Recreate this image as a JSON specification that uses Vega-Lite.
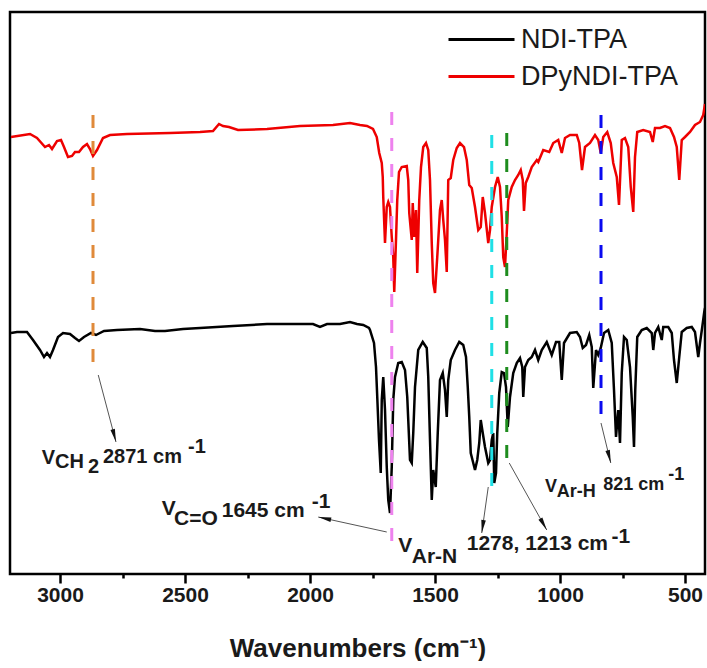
{
  "$schema": "https://vega.github.io/schema/vega-lite/v6.json",
  "width": 695,
  "height": 562,
  "padding": {"left": 10, "top": 12, "right": 2, "bottom": 0},
  "config": {"view": {"stroke": "black", "strokeWidth": 2.5}, "font": "Liberation Sans"},
  "datasets": {
    "spectra": [
      {"sample":"DPyNDI-TPA","wn":3196,"t":437},{"sample":"DPyNDI-TPA","wn":3120,"t":440},{"sample":"DPyNDI-TPA","wn":3092,"t":436},{"sample":"DPyNDI-TPA","wn":3060,"t":427},{"sample":"DPyNDI-TPA","wn":3044,"t":429},{"sample":"DPyNDI-TPA","wn":3032,"t":425},{"sample":"DPyNDI-TPA","wn":3012,"t":433},{"sample":"DPyNDI-TPA","wn":2996,"t":434},{"sample":"DPyNDI-TPA","wn":2984,"t":427},{"sample":"DPyNDI-TPA","wn":2968,"t":417},{"sample":"DPyNDI-TPA","wn":2952,"t":418},{"sample":"DPyNDI-TPA","wn":2940,"t":422},{"sample":"DPyNDI-TPA","wn":2924,"t":422},{"sample":"DPyNDI-TPA","wn":2908,"t":427},{"sample":"DPyNDI-TPA","wn":2892,"t":430},{"sample":"DPyNDI-TPA","wn":2880,"t":425},{"sample":"DPyNDI-TPA","wn":2868,"t":418},{"sample":"DPyNDI-TPA","wn":2852,"t":424},{"sample":"DPyNDI-TPA","wn":2828,"t":436},{"sample":"DPyNDI-TPA","wn":2800,"t":439},{"sample":"DPyNDI-TPA","wn":2732,"t":440},{"sample":"DPyNDI-TPA","wn":2560,"t":441},{"sample":"DPyNDI-TPA","wn":2440,"t":442},{"sample":"DPyNDI-TPA","wn":2388,"t":443},{"sample":"DPyNDI-TPA","wn":2364,"t":450},{"sample":"DPyNDI-TPA","wn":2348,"t":448},{"sample":"DPyNDI-TPA","wn":2324,"t":447},{"sample":"DPyNDI-TPA","wn":2288,"t":444},{"sample":"DPyNDI-TPA","wn":2172,"t":445},{"sample":"DPyNDI-TPA","wn":2040,"t":448},{"sample":"DPyNDI-TPA","wn":1908,"t":449},{"sample":"DPyNDI-TPA","wn":1840,"t":451},{"sample":"DPyNDI-TPA","wn":1800,"t":449},{"sample":"DPyNDI-TPA","wn":1772,"t":448},{"sample":"DPyNDI-TPA","wn":1748,"t":445},{"sample":"DPyNDI-TPA","wn":1733,"t":437},{"sample":"DPyNDI-TPA","wn":1723,"t":421},{"sample":"DPyNDI-TPA","wn":1713,"t":411},{"sample":"DPyNDI-TPA","wn":1709,"t":397},{"sample":"DPyNDI-TPA","wn":1707,"t":377},{"sample":"DPyNDI-TPA","wn":1700,"t":331},{"sample":"DPyNDI-TPA","wn":1693,"t":367},{"sample":"DPyNDI-TPA","wn":1687,"t":372},{"sample":"DPyNDI-TPA","wn":1680,"t":367},{"sample":"DPyNDI-TPA","wn":1673,"t":337},{"sample":"DPyNDI-TPA","wn":1667,"t":317},{"sample":"DPyNDI-TPA","wn":1663,"t":282},{"sample":"DPyNDI-TPA","wn":1656,"t":334},{"sample":"DPyNDI-TPA","wn":1651,"t":374},{"sample":"DPyNDI-TPA","wn":1644,"t":402},{"sample":"DPyNDI-TPA","wn":1633,"t":407},{"sample":"DPyNDI-TPA","wn":1613,"t":408},{"sample":"DPyNDI-TPA","wn":1607,"t":394},{"sample":"DPyNDI-TPA","wn":1603,"t":361},{"sample":"DPyNDI-TPA","wn":1593,"t":334},{"sample":"DPyNDI-TPA","wn":1589,"t":371},{"sample":"DPyNDI-TPA","wn":1583,"t":337},{"sample":"DPyNDI-TPA","wn":1576,"t":364},{"sample":"DPyNDI-TPA","wn":1571,"t":301},{"sample":"DPyNDI-TPA","wn":1563,"t":374},{"sample":"DPyNDI-TPA","wn":1556,"t":407},{"sample":"DPyNDI-TPA","wn":1547,"t":427},{"sample":"DPyNDI-TPA","wn":1536,"t":431},{"sample":"DPyNDI-TPA","wn":1527,"t":424},{"sample":"DPyNDI-TPA","wn":1520,"t":394},{"sample":"DPyNDI-TPA","wn":1513,"t":331},{"sample":"DPyNDI-TPA","wn":1507,"t":291},{"sample":"DPyNDI-TPA","wn":1500,"t":281},{"sample":"DPyNDI-TPA","wn":1491,"t":317},{"sample":"DPyNDI-TPA","wn":1480,"t":364},{"sample":"DPyNDI-TPA","wn":1473,"t":374},{"sample":"DPyNDI-TPA","wn":1467,"t":354},{"sample":"DPyNDI-TPA","wn":1460,"t":334},{"sample":"DPyNDI-TPA","wn":1453,"t":302},{"sample":"DPyNDI-TPA","wn":1447,"t":394},{"sample":"DPyNDI-TPA","wn":1437,"t":396},{"sample":"DPyNDI-TPA","wn":1427,"t":414},{"sample":"DPyNDI-TPA","wn":1413,"t":426},{"sample":"DPyNDI-TPA","wn":1400,"t":431},{"sample":"DPyNDI-TPA","wn":1384,"t":427},{"sample":"DPyNDI-TPA","wn":1373,"t":414},{"sample":"DPyNDI-TPA","wn":1363,"t":389},{"sample":"DPyNDI-TPA","wn":1353,"t":386},{"sample":"DPyNDI-TPA","wn":1340,"t":367},{"sample":"DPyNDI-TPA","wn":1327,"t":344},{"sample":"DPyNDI-TPA","wn":1317,"t":347},{"sample":"DPyNDI-TPA","wn":1309,"t":377},{"sample":"DPyNDI-TPA","wn":1300,"t":361},{"sample":"DPyNDI-TPA","wn":1287,"t":331},{"sample":"DPyNDI-TPA","wn":1280,"t":344},{"sample":"DPyNDI-TPA","wn":1273,"t":367},{"sample":"DPyNDI-TPA","wn":1260,"t":387},{"sample":"DPyNDI-TPA","wn":1249,"t":397},{"sample":"DPyNDI-TPA","wn":1240,"t":387},{"sample":"DPyNDI-TPA","wn":1233,"t":357},{"sample":"DPyNDI-TPA","wn":1227,"t":317},{"sample":"DPyNDI-TPA","wn":1220,"t":307},{"sample":"DPyNDI-TPA","wn":1213,"t":341},{"sample":"DPyNDI-TPA","wn":1207,"t":374},{"sample":"DPyNDI-TPA","wn":1193,"t":387},{"sample":"DPyNDI-TPA","wn":1180,"t":394},{"sample":"DPyNDI-TPA","wn":1167,"t":399},{"sample":"DPyNDI-TPA","wn":1157,"t":404},{"sample":"DPyNDI-TPA","wn":1149,"t":394},{"sample":"DPyNDI-TPA","wn":1144,"t":363},{"sample":"DPyNDI-TPA","wn":1137,"t":391},{"sample":"DPyNDI-TPA","wn":1127,"t":397},{"sample":"DPyNDI-TPA","wn":1113,"t":407},{"sample":"DPyNDI-TPA","wn":1093,"t":414},{"sample":"DPyNDI-TPA","wn":1087,"t":412},{"sample":"DPyNDI-TPA","wn":1067,"t":424},{"sample":"DPyNDI-TPA","wn":1043,"t":422},{"sample":"DPyNDI-TPA","wn":1027,"t":431},{"sample":"DPyNDI-TPA","wn":1007,"t":434},{"sample":"DPyNDI-TPA","wn":993,"t":421},{"sample":"DPyNDI-TPA","wn":980,"t":436},{"sample":"DPyNDI-TPA","wn":960,"t":439},{"sample":"DPyNDI-TPA","wn":933,"t":439},{"sample":"DPyNDI-TPA","wn":923,"t":431},{"sample":"DPyNDI-TPA","wn":912,"t":404},{"sample":"DPyNDI-TPA","wn":900,"t":427},{"sample":"DPyNDI-TPA","wn":880,"t":431},{"sample":"DPyNDI-TPA","wn":860,"t":439},{"sample":"DPyNDI-TPA","wn":847,"t":434},{"sample":"DPyNDI-TPA","wn":837,"t":421},{"sample":"DPyNDI-TPA","wn":827,"t":437},{"sample":"DPyNDI-TPA","wn":811,"t":442},{"sample":"DPyNDI-TPA","wn":797,"t":431},{"sample":"DPyNDI-TPA","wn":787,"t":411},{"sample":"DPyNDI-TPA","wn":773,"t":397},{"sample":"DPyNDI-TPA","wn":764,"t":369},{"sample":"DPyNDI-TPA","wn":753,"t":434},{"sample":"DPyNDI-TPA","wn":740,"t":436},{"sample":"DPyNDI-TPA","wn":727,"t":427},{"sample":"DPyNDI-TPA","wn":717,"t":387},{"sample":"DPyNDI-TPA","wn":707,"t":362},{"sample":"DPyNDI-TPA","wn":700,"t":417},{"sample":"DPyNDI-TPA","wn":691,"t":442},{"sample":"DPyNDI-TPA","wn":667,"t":444},{"sample":"DPyNDI-TPA","wn":640,"t":442},{"sample":"DPyNDI-TPA","wn":629,"t":432},{"sample":"DPyNDI-TPA","wn":620,"t":446},{"sample":"DPyNDI-TPA","wn":600,"t":446},{"sample":"DPyNDI-TPA","wn":580,"t":448},{"sample":"DPyNDI-TPA","wn":560,"t":446},{"sample":"DPyNDI-TPA","wn":544,"t":437},{"sample":"DPyNDI-TPA","wn":533,"t":427},{"sample":"DPyNDI-TPA","wn":523,"t":394},{"sample":"DPyNDI-TPA","wn":513,"t":434},{"sample":"DPyNDI-TPA","wn":500,"t":437},{"sample":"DPyNDI-TPA","wn":480,"t":442},{"sample":"DPyNDI-TPA","wn":460,"t":449},{"sample":"DPyNDI-TPA","wn":440,"t":452},{"sample":"DPyNDI-TPA","wn":427,"t":459},{"sample":"DPyNDI-TPA","wn":420,"t":470},
      {"sample":"NDI-TPA","wn":3196,"t":241},{"sample":"NDI-TPA","wn":3172,"t":242},{"sample":"NDI-TPA","wn":3132,"t":242},{"sample":"NDI-TPA","wn":3108,"t":234},{"sample":"NDI-TPA","wn":3080,"t":224},{"sample":"NDI-TPA","wn":3064,"t":217},{"sample":"NDI-TPA","wn":3052,"t":221},{"sample":"NDI-TPA","wn":3040,"t":217},{"sample":"NDI-TPA","wn":3028,"t":224},{"sample":"NDI-TPA","wn":3008,"t":237},{"sample":"NDI-TPA","wn":2988,"t":241},{"sample":"NDI-TPA","wn":2960,"t":240},{"sample":"NDI-TPA","wn":2940,"t":236},{"sample":"NDI-TPA","wn":2924,"t":233},{"sample":"NDI-TPA","wn":2904,"t":237},{"sample":"NDI-TPA","wn":2876,"t":241},{"sample":"NDI-TPA","wn":2856,"t":239},{"sample":"NDI-TPA","wn":2824,"t":243},{"sample":"NDI-TPA","wn":2772,"t":244},{"sample":"NDI-TPA","wn":2680,"t":245},{"sample":"NDI-TPA","wn":2620,"t":243},{"sample":"NDI-TPA","wn":2580,"t":243},{"sample":"NDI-TPA","wn":2508,"t":245},{"sample":"NDI-TPA","wn":2440,"t":246},{"sample":"NDI-TPA","wn":2308,"t":248},{"sample":"NDI-TPA","wn":2172,"t":250},{"sample":"NDI-TPA","wn":2040,"t":250},{"sample":"NDI-TPA","wn":1988,"t":250},{"sample":"NDI-TPA","wn":1960,"t":247},{"sample":"NDI-TPA","wn":1932,"t":250},{"sample":"NDI-TPA","wn":1880,"t":250},{"sample":"NDI-TPA","wn":1840,"t":252},{"sample":"NDI-TPA","wn":1812,"t":250},{"sample":"NDI-TPA","wn":1787,"t":249},{"sample":"NDI-TPA","wn":1764,"t":246},{"sample":"NDI-TPA","wn":1760,"t":244},{"sample":"NDI-TPA","wn":1744,"t":231},{"sample":"NDI-TPA","wn":1736,"t":207},{"sample":"NDI-TPA","wn":1731,"t":177},{"sample":"NDI-TPA","wn":1724,"t":134},{"sample":"NDI-TPA","wn":1717,"t":101},{"sample":"NDI-TPA","wn":1713,"t":174},{"sample":"NDI-TPA","wn":1707,"t":197},{"sample":"NDI-TPA","wn":1700,"t":164},{"sample":"NDI-TPA","wn":1693,"t":107},{"sample":"NDI-TPA","wn":1687,"t":74},{"sample":"NDI-TPA","wn":1680,"t":61},{"sample":"NDI-TPA","wn":1673,"t":107},{"sample":"NDI-TPA","wn":1667,"t":174},{"sample":"NDI-TPA","wn":1660,"t":197},{"sample":"NDI-TPA","wn":1647,"t":211},{"sample":"NDI-TPA","wn":1633,"t":212},{"sample":"NDI-TPA","wn":1620,"t":204},{"sample":"NDI-TPA","wn":1611,"t":177},{"sample":"NDI-TPA","wn":1600,"t":114},{"sample":"NDI-TPA","wn":1593,"t":111},{"sample":"NDI-TPA","wn":1587,"t":141},{"sample":"NDI-TPA","wn":1580,"t":187},{"sample":"NDI-TPA","wn":1567,"t":224},{"sample":"NDI-TPA","wn":1549,"t":232},{"sample":"NDI-TPA","wn":1533,"t":226},{"sample":"NDI-TPA","wn":1527,"t":197},{"sample":"NDI-TPA","wn":1520,"t":134},{"sample":"NDI-TPA","wn":1513,"t":74},{"sample":"NDI-TPA","wn":1507,"t":104},{"sample":"NDI-TPA","wn":1497,"t":87},{"sample":"NDI-TPA","wn":1489,"t":141},{"sample":"NDI-TPA","wn":1480,"t":194},{"sample":"NDI-TPA","wn":1469,"t":201},{"sample":"NDI-TPA","wn":1460,"t":184},{"sample":"NDI-TPA","wn":1453,"t":157},{"sample":"NDI-TPA","wn":1447,"t":194},{"sample":"NDI-TPA","wn":1437,"t":214},{"sample":"NDI-TPA","wn":1420,"t":224},{"sample":"NDI-TPA","wn":1403,"t":232},{"sample":"NDI-TPA","wn":1387,"t":229},{"sample":"NDI-TPA","wn":1376,"t":217},{"sample":"NDI-TPA","wn":1369,"t":187},{"sample":"NDI-TPA","wn":1363,"t":157},{"sample":"NDI-TPA","wn":1357,"t":121},{"sample":"NDI-TPA","wn":1347,"t":111},{"sample":"NDI-TPA","wn":1340,"t":104},{"sample":"NDI-TPA","wn":1331,"t":114},{"sample":"NDI-TPA","wn":1323,"t":131},{"sample":"NDI-TPA","wn":1317,"t":154},{"sample":"NDI-TPA","wn":1309,"t":141},{"sample":"NDI-TPA","wn":1300,"t":127},{"sample":"NDI-TPA","wn":1287,"t":111},{"sample":"NDI-TPA","wn":1280,"t":114},{"sample":"NDI-TPA","wn":1273,"t":134},{"sample":"NDI-TPA","wn":1267,"t":141},{"sample":"NDI-TPA","wn":1263,"t":91},{"sample":"NDI-TPA","wn":1256,"t":101},{"sample":"NDI-TPA","wn":1251,"t":141},{"sample":"NDI-TPA","wn":1243,"t":181},{"sample":"NDI-TPA","wn":1233,"t":202},{"sample":"NDI-TPA","wn":1224,"t":201},{"sample":"NDI-TPA","wn":1216,"t":187},{"sample":"NDI-TPA","wn":1209,"t":147},{"sample":"NDI-TPA","wn":1200,"t":177},{"sample":"NDI-TPA","wn":1187,"t":201},{"sample":"NDI-TPA","wn":1173,"t":211},{"sample":"NDI-TPA","wn":1160,"t":216},{"sample":"NDI-TPA","wn":1151,"t":207},{"sample":"NDI-TPA","wn":1147,"t":177},{"sample":"NDI-TPA","wn":1140,"t":207},{"sample":"NDI-TPA","wn":1127,"t":214},{"sample":"NDI-TPA","wn":1113,"t":217},{"sample":"NDI-TPA","wn":1100,"t":224},{"sample":"NDI-TPA","wn":1087,"t":214},{"sample":"NDI-TPA","wn":1073,"t":224},{"sample":"NDI-TPA","wn":1053,"t":232},{"sample":"NDI-TPA","wn":1033,"t":219},{"sample":"NDI-TPA","wn":1016,"t":232},{"sample":"NDI-TPA","wn":1003,"t":232},{"sample":"NDI-TPA","wn":993,"t":194},{"sample":"NDI-TPA","wn":984,"t":231},{"sample":"NDI-TPA","wn":960,"t":241},{"sample":"NDI-TPA","wn":933,"t":242},{"sample":"NDI-TPA","wn":920,"t":237},{"sample":"NDI-TPA","wn":909,"t":226},{"sample":"NDI-TPA","wn":896,"t":229},{"sample":"NDI-TPA","wn":883,"t":239},{"sample":"NDI-TPA","wn":873,"t":227},{"sample":"NDI-TPA","wn":867,"t":186},{"sample":"NDI-TPA","wn":856,"t":224},{"sample":"NDI-TPA","wn":847,"t":219},{"sample":"NDI-TPA","wn":837,"t":226},{"sample":"NDI-TPA","wn":824,"t":241},{"sample":"NDI-TPA","wn":807,"t":244},{"sample":"NDI-TPA","wn":793,"t":231},{"sample":"NDI-TPA","wn":784,"t":184},{"sample":"NDI-TPA","wn":776,"t":137},{"sample":"NDI-TPA","wn":767,"t":164},{"sample":"NDI-TPA","wn":760,"t":131},{"sample":"NDI-TPA","wn":753,"t":201},{"sample":"NDI-TPA","wn":744,"t":237},{"sample":"NDI-TPA","wn":733,"t":234},{"sample":"NDI-TPA","wn":720,"t":207},{"sample":"NDI-TPA","wn":709,"t":157},{"sample":"NDI-TPA","wn":704,"t":127},{"sample":"NDI-TPA","wn":699,"t":184},{"sample":"NDI-TPA","wn":691,"t":237},{"sample":"NDI-TPA","wn":673,"t":244},{"sample":"NDI-TPA","wn":653,"t":246},{"sample":"NDI-TPA","wn":633,"t":241},{"sample":"NDI-TPA","wn":627,"t":224},{"sample":"NDI-TPA","wn":620,"t":241},{"sample":"NDI-TPA","wn":607,"t":247},{"sample":"NDI-TPA","wn":593,"t":234},{"sample":"NDI-TPA","wn":587,"t":247},{"sample":"NDI-TPA","wn":567,"t":247},{"sample":"NDI-TPA","wn":553,"t":241},{"sample":"NDI-TPA","wn":544,"t":214},{"sample":"NDI-TPA","wn":533,"t":191},{"sample":"NDI-TPA","wn":523,"t":217},{"sample":"NDI-TPA","wn":513,"t":242},{"sample":"NDI-TPA","wn":493,"t":246},{"sample":"NDI-TPA","wn":473,"t":247},{"sample":"NDI-TPA","wn":460,"t":242},{"sample":"NDI-TPA","wn":447,"t":217},{"sample":"NDI-TPA","wn":440,"t":231},{"sample":"NDI-TPA","wn":431,"t":247},{"sample":"NDI-TPA","wn":423,"t":262},{"sample":"NDI-TPA","wn":420,"t":266}
    ],
    "markers": [
      {"band":"CH2","wn":2868,"top":459,"bottom":206},
      {"band":"C=O","wn":1673,"top":462,"bottom":27},
      {"band":"Ar-N a","wn":1273,"top":439,"bottom":77},
      {"band":"Ar-N b","wn":1213,"top":441,"bottom":114},
      {"band":"Ar-H","wn":836,"top":459,"bottom":157}
    ],
    "arrows": [
      {"band":"CH2","wn0":2847,"t0":199,"wn1":2776,"t1":132},
      {"band":"C=O","wn0":1693,"t0":42,"wn1":1967,"t1":57},
      {"band":"Ar-N a","wn0":1287,"t0":87,"wn1":1313,"t1":41},
      {"band":"Ar-N b","wn0":1203,"t0":111,"wn1":1053,"t1":44},
      {"band":"Ar-H","wn0":836,"t0":151,"wn1":797,"t1":111}
    ],
    "labels": [
      {"peak":"CH2","text":"V","wn":3073,"t":110},
      {"peak":"CH2","text":"CH","wn":3020,"t":106},
      {"peak":"CH2","text":"2","wn":2888,"t":101},
      {"peak":"CH2","text":"2871 cm","wn":2828,"t":111},
      {"peak":"CH2","text":"-1","wn":2488,"t":121},
      {"peak":"C=O","text":"V","wn":2593,"t":59},
      {"peak":"C=O","text":"C=O","wn":2544,"t":49},
      {"peak":"C=O","text":"1645 cm","wn":2353,"t":57},
      {"peak":"C=O","text":"-1","wn":1993,"t":66},
      {"peak":"Ar-N","text":"V","wn":1647,"t":22},
      {"peak":"Ar-N","text":"Ar-N","wn":1593,"t":11},
      {"peak":"Ar-N","text":"1278, 1213 cm","wn":1373,"t":24},
      {"peak":"Ar-N","text":"-1","wn":794,"t":31},
      {"peak":"Ar-H","text":"V","wn":1060,"t":82},
      {"peak":"Ar-H","text":"Ar-H","wn":1013,"t":77},
      {"peak":"Ar-H","text":"821 cm","wn":827,"t":84},
      {"peak":"Ar-H","text":"-1","wn":567,"t":94}
    ]
  },
  "layer": [
    {
      "data": {"name": "spectra"},
      "mark": {"type": "line", "strokeWidth": 2.5, "clip": true},
      "encoding": {
        "x": {"field": "wn", "type": "quantitative",
          "scale": {"domain": [420, 3200], "reverse": true, "nice": false, "zero": false},
          "axis": {
            "values": [3000, 2750, 2500, 2250, 2000, 1750, 1500, 1250, 1000, 750, 500],
            "labelExpr": "datum.value % 500 === 0 ? datum.label : ''",
            "format": "d",
            "labelFont": "Liberation Sans", "labelFontSize": 21, "labelFontWeight": "bold", "labelColor": "#1a1a1a",
            "labelPadding": 1, "labelFlush": false, "labelOverlap": false,
            "tickColor": "black", "tickWidth": 2.5,
            "tickSize": {"condition": {"test": "datum.value % 500 === 0", "value": 9}, "value": 4},
            "domain": false, "grid": false,
            "title": "Wavenumbers (cm⁻¹)",
            "titleFont": "Liberation Sans", "titleFontSize": 26, "titleFontWeight": "bold", "titleColor": "#1a1a1a",
            "titlePadding": 30
          }
        },
        "y": {"field": "t", "type": "quantitative", "scale": {"domain": [0, 562], "nice": false, "zero": false}, "axis": null},
        "color": {"field": "sample", "type": "nominal",
          "scale": {"domain": ["NDI-TPA", "DPyNDI-TPA"], "range": ["#000000", "#ee0000"]},
          "legend": {"orient": "none", "legendX": 458, "legendY": 14, "title": null,
            "symbolType": "M-3,0H3", "symbolSize": 484, "symbolStrokeWidth": 3,
            "labelFont": "Liberation Sans", "labelFontSize": 27, "labelColor": "#1a1a1a", "labelOffset": 26,
            "padding": 0, "rowPadding": 9}
        }
      }
    },
    {
      "data": {"name": "markers"},
      "mark": {"type": "rule", "strokeWidth": 3, "strokeDash": [13, 13]},
      "encoding": {
        "x": {"field": "wn", "type": "quantitative"},
        "y": {"field": "top", "type": "quantitative"},
        "y2": {"field": "bottom"},
        "color": {"field": "band", "type": "nominal",
          "scale": {"domain": ["CH2", "C=O", "Ar-N a", "Ar-N b", "Ar-H"], "range": ["#e08a3a", "#ee82ee", "#1fe0e6", "#1e8c1e", "#0a0af0"]},
          "legend": null}
      }
    },
    {
      "data": {"name": "arrows"},
      "mark": {"type": "rule", "strokeWidth": 1, "color": "#555555"},
      "encoding": {
        "x": {"field": "wn0", "type": "quantitative"},
        "y": {"field": "t0", "type": "quantitative"},
        "x2": {"field": "wn1"},
        "y2": {"field": "t1"}
      }
    },
    {
      "data": {"name": "arrows"},
      "mark": {"type": "point", "shape": "M0,0L-0.35,2L0.35,2Z", "filled": true, "color": "#111111", "opacity": 1, "size": 169, "strokeWidth": 0,
        "angle": {"expr": "atan2(scale('x', datum.wn1) - scale('x', datum.wn0), scale('y', datum.t0) - scale('y', datum.t1)) * 180 / PI"}},
      "encoding": {
        "x": {"field": "wn1", "type": "quantitative"},
        "y": {"field": "t1", "type": "quantitative"}
      }
    },
    {
      "data": {"name": "labels"},
      "transform": [{"filter": "datum.peak === 'CH2'"}],
      "mark": {"type": "text", "align": "left", "baseline": "alphabetic", "font": "Liberation Sans", "fontWeight": "bold", "color": "#1a1a1a", "fontSize": 20},
      "encoding": {
        "x": {"field": "wn", "type": "quantitative"},
        "y": {"field": "t", "type": "quantitative"},
        "text": {"field": "text"}
      }
    },
    {
      "data": {"name": "labels"},
      "transform": [{"filter": "datum.peak === 'C=O' || datum.peak === 'Ar-N'"}],
      "mark": {"type": "text", "align": "left", "baseline": "alphabetic", "font": "Liberation Sans", "fontWeight": "bold", "color": "#1a1a1a", "fontSize": 21},
      "encoding": {
        "x": {"field": "wn", "type": "quantitative"},
        "y": {"field": "t", "type": "quantitative"},
        "text": {"field": "text"}
      }
    },
    {
      "data": {"name": "labels"},
      "transform": [{"filter": "datum.peak === 'Ar-H'"}],
      "mark": {"type": "text", "align": "left", "baseline": "alphabetic", "font": "Liberation Sans", "fontWeight": "bold", "color": "#1a1a1a", "fontSize": 18},
      "encoding": {
        "x": {"field": "wn", "type": "quantitative"},
        "y": {"field": "t", "type": "quantitative"},
        "text": {"field": "text"}
      }
    }
  ],
  "resolve": {"scale": {"color": "independent"}}
}
